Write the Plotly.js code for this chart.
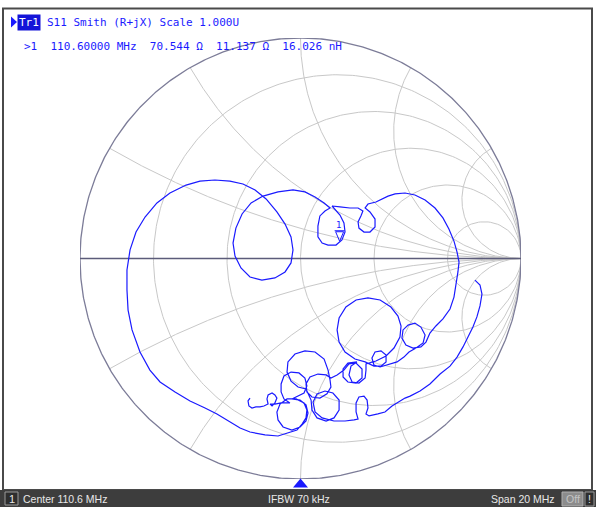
<!DOCTYPE html>
<html><head><meta charset="utf-8">
<script src="https://cdn.plot.ly/plotly-3.0.1.min.js"></script>
<style>html,body{margin:0;padding:0;background:#fff;overflow:hidden}#chart{width:596px;height:507px}</style>
</head><body><div id="chart"></div>
<script>
// ---- Smith chart grid values (normalised) ----
const resistanceCircles = [0.2, 0.5, 1, 2, 5];
const reactanceArcs = [0.268, 0.577, 1, 1.732, 3.732];

// ---- S11 trace: reflection coefficient ----
const gammaRe = [
-0.229,-0.238,-0.234,-0.220,-0.202,-0.184,-0.166,-0.147,-0.152,-0.147,-0.129,-0.116,-0.107,-0.116,-0.129,-0.138,-0.116,-0.088,-0.066,-0.048,
-0.075,-0.088,-0.088,-0.075,-0.043,-0.007,0.020,0.029,0.016,-0.016,-0.039,
-0.002,0.025,0.034,0.025,-0.002,-0.039,-0.079,-0.102,-0.107,-0.093,-0.061,-0.020,0.016,0.029,0.025,0.007,-0.016,
-0.057,-0.102,-0.161,-0.229,-0.274,-0.329,-0.379,-0.433,-0.501,-0.569,-0.637,-0.683,-0.728,-0.764,-0.782,-0.787,-0.787,-0.773,-0.746,-0.705,-0.651,-0.592,-0.519,-0.456,-0.388,-0.320,-0.261,-0.206,-0.156,-0.107,-0.070,-0.043,-0.034,-0.043,-0.070,-0.116,-0.175,-0.229,-0.270,-0.297,-0.306,-0.293,-0.265,-0.224,-0.170,-0.102,-0.034,0.020,0.066,0.107,0.134,
0.111,0.088,0.079,0.079,0.098,0.125,0.161,0.188,0.202,0.197,0.179,0.156,0.143,
0.179,0.224,0.261,0.283,0.274,0.261,0.265,0.288,0.315,0.338,0.338,0.315,0.293,0.306,0.342,0.374,0.397,0.429,0.474,0.519,0.565,0.610,0.646,0.673,0.696,0.710,0.719,0.714,0.705,0.696,0.678,0.646,0.614,
0.587,0.569,0.546,0.510,0.478,0.460,0.465,0.488,0.519,0.546,0.565,0.556,0.524,0.492,0.469,0.438,0.397,0.361,
0.333,0.324,0.338,0.365,0.388,0.388,0.365,0.333,
0.293,0.247,0.202,0.175,0.166,0.175,0.206,0.252,0.306,0.361,0.410,0.442,0.456,0.451,0.424,0.388,0.342,0.297,
0.297,0.293,0.265,0.234,0.220,0.229,0.256,
0.215,0.193,0.193,0.215,0.252,0.279,0.279,0.252,0.220,0.197,0.166,0.138,
0.116,0.079,0.043,0.025,0.029,0.052,0.088,0.120,0.138,0.134,
0.125,0.107,0.066,0.020,-0.025,-0.057,-0.061,-0.043,-0.011,0.025,
0.048,0.052,0.075,0.116,0.152,0.175,0.175,0.147,0.111,0.075,0.057,0.066,0.098,0.152,0.202,0.243,0.261,
0.252,0.252,0.265,0.288,0.302,0.306,0.297,0.311,0.351,0.383,0.415,0.451,0.474,0.497,0.542,0.587,0.633,0.678,0.710,0.737,0.760,0.782,0.800,0.814,0.823,0.814,0.791
];
const gammaIm = [
-0.633,-0.646,-0.669,-0.678,-0.673,-0.673,-0.669,-0.660,-0.637,-0.619,-0.610,-0.619,-0.633,-0.655,-0.669,-0.660,-0.660,-0.655,-0.655,-0.655,
-0.637,-0.605,-0.569,-0.533,-0.515,-0.519,-0.542,-0.578,-0.610,-0.628,-0.637,
-0.642,-0.664,-0.701,-0.737,-0.764,-0.778,-0.764,-0.732,-0.696,-0.660,-0.637,-0.637,-0.655,-0.687,-0.723,-0.751,-0.778,
-0.791,-0.805,-0.800,-0.787,-0.769,-0.737,-0.705,-0.678,-0.646,-0.605,-0.560,-0.506,-0.424,-0.324,-0.234,-0.143,-0.052,0.039,0.120,0.188,0.252,0.297,0.333,0.351,0.356,0.351,0.338,0.311,0.270,0.211,0.156,0.098,0.039,-0.020,-0.061,-0.088,-0.098,-0.084,-0.043,0.011,0.070,0.138,0.202,0.252,0.283,0.302,0.311,0.302,0.279,0.252,0.229,
0.215,0.193,0.147,0.098,0.070,0.061,0.061,0.084,0.120,0.161,0.197,0.224,0.238,
0.234,0.229,0.229,0.215,0.193,0.166,0.138,0.120,0.120,0.143,0.179,0.211,0.229,0.247,0.256,0.270,0.283,0.293,0.297,0.288,0.265,0.229,0.184,0.134,0.079,0.029,-0.016,-0.061,-0.120,-0.175,-0.229,-0.274,-0.306,
-0.338,-0.379,-0.401,-0.406,-0.392,-0.361,-0.324,-0.302,-0.293,-0.311,-0.347,-0.383,-0.406,-0.424,-0.447,-0.469,-0.483,-0.492,
-0.483,-0.451,-0.424,-0.419,-0.438,-0.469,-0.488,-0.488,
-0.469,-0.456,-0.424,-0.379,-0.324,-0.270,-0.220,-0.188,-0.179,-0.188,-0.220,-0.261,-0.306,-0.356,-0.406,-0.442,-0.465,-0.478,
-0.506,-0.542,-0.565,-0.560,-0.528,-0.488,-0.469,
-0.474,-0.501,-0.537,-0.560,-0.565,-0.542,-0.501,-0.474,-0.478,-0.506,-0.528,-0.542,
-0.528,-0.524,-0.537,-0.569,-0.605,-0.628,-0.633,-0.614,-0.583,-0.551,
-0.506,-0.456,-0.424,-0.419,-0.433,-0.469,-0.515,-0.556,-0.583,-0.592,
-0.642,-0.687,-0.723,-0.737,-0.723,-0.687,-0.642,-0.610,-0.601,-0.614,-0.651,-0.696,-0.723,-0.737,-0.737,-0.732,-0.728,
-0.696,-0.655,-0.628,-0.624,-0.642,-0.678,-0.705,-0.714,-0.705,-0.696,-0.669,-0.646,-0.633,-0.624,-0.601,-0.569,-0.524,-0.488,-0.447,-0.401,-0.356,-0.311,-0.265,-0.215,-0.161,-0.120,-0.098
];

// ---- marker 1 readout ----
const z0 = 50;
const markerFreq = "110.60000";
const markerR = 70.544, markerX = 11.137, markerL = 16.026;

// ---- header / status texts ----
const traceName = "Tr1";
const traceInfo = "S11 Smith (R+jX) Scale 1.000U";
const statusCenter = "Center 110.6 MHz";
const statusIfbw = "IFBW 70 kHz";
const statusSpan = "Span 20 MHz";

// ---------------------------------------------------
function gammaOf(r, x){
  const den = (r+1)*(r+1) + x*x;
  return [((r-1)*(r+1) + x*x)/den, 2*x/den];
}
const gx = [], gy = [];
const N = 360;
resistanceCircles.forEach(r => {
  for(let i=0;i<=N;i++){
    const t = -Math.PI/2 + 0.0005 + (Math.PI-0.001)*i/N;
    const g = gammaOf(r, Math.tan(t));
    gx.push(g[0]); gy.push(g[1]);
  }
  gx.push(null); gy.push(null);
});
reactanceArcs.forEach(x0 => {
  [x0, -x0].forEach(x => {
    for(let i=0;i<=N;i++){
      const t = (Math.PI/2 - 0.0005)*i/N;
      const g = gammaOf(Math.tan(t), x);
      gx.push(g[0]); gy.push(g[1]);
    }
    gx.push(1); gy.push(0);
    gx.push(null); gy.push(null);
  });
});
const ox = [], oy = [];
for(let i=0;i<=720;i++){ const a = 2*Math.PI*i/720; ox.push(Math.cos(a)); oy.push(Math.sin(a)); }

const n = Math.min(gammaRe.length, gammaIm.length);
const mg = gammaOf(markerR/z0, markerX/z0);

const blue = '#1a1aff';
const traces = [
  {type:'scatter', mode:'lines', x:gx, y:gy, line:{color:'#c8c8c8', width:1}, hoverinfo:'skip'},
  {type:'scatter', mode:'lines', x:ox, y:oy, line:{color:'#7c7c98', width:1.3}, hoverinfo:'skip'},
  {type:'scatter', mode:'lines', x:[-1,1], y:[0,0], line:{color:'#5c5c7a', width:1.3}, hoverinfo:'skip'},
  {type:'scatter', mode:'lines', x:gammaRe.slice(0,n), y:gammaIm.slice(0,n), line:{color:blue, width:1.2}, hoverinfo:'skip'}
];

// pixel -> paper helpers for decorations outside the plot area
const L = 80, T = 38, S = 441;
const PX = p => (p - L)/S;
const PY = p => (T + S - p)/S;

const mono = 'DejaVu Sans Mono';
const sans = 'Liberation Sans';
const nb = '\u00a0';
const line2 = '>1' + nb+nb + markerFreq + nb + 'MHz' + nb+nb + markerR.toFixed(3) + nb + 'Ω' + nb+nb +
              markerX.toFixed(3) + nb + 'Ω' + nb+nb + markerL.toFixed(3) + nb + 'nH';

function ann(px, py, text, opts){
  return Object.assign({xref:'paper', yref:'paper', x:PX(px), y:PY(py), text:text, showarrow:false,
    xanchor:'left', yanchor:'middle', borderpad:0, font:{family:mono, size:11, color:blue}}, opts||{});
}
function pathPx(pts){
  return pts.map((p,i)=>(i?'L':'M')+PX(p[0]).toFixed(5)+','+PY(p[1]).toFixed(5)).join(' ')+' Z';
}

const shapes = [
  // window frame
  {type:'rect', xref:'paper', yref:'paper', x0:PX(3), x1:PX(592), y0:PY(490), y1:PY(8.5), line:{color:'#4a4a4a', width:2}, layer:'below'},
  // status bar
  {type:'rect', xref:'paper', yref:'paper', x0:PX(0), x1:PX(596), y0:PY(507), y1:PY(490), fillcolor:'#3d3d3d', line:{width:0}},
  {type:'rect', xref:'paper', yref:'paper', x0:PX(5), x1:PX(18), y0:PY(505), y1:PY(492), fillcolor:'#2e2e2e', line:{color:'#9a9a9a', width:1}},
  {type:'rect', xref:'paper', yref:'paper', x0:PX(562), x1:PX(583), y0:PY(506), y1:PY(492), fillcolor:'#8c8c8c', line:{color:'#b0b0b0', width:1}},
  {type:'rect', xref:'paper', yref:'paper', x0:PX(585), x1:PX(594), y0:PY(506), y1:PY(492), fillcolor:'#2e2e2e', line:{color:'#9a9a9a', width:1}},
  // active trace arrow
  {type:'path', xref:'paper', yref:'paper', path:pathPx([[11,16.5],[11,27.5],[17,22]]), fillcolor:blue, line:{width:0}},
  // stimulus cursor at bottom
  {type:'path', xref:'paper', yref:'paper', xsizemode:'pixel', ysizemode:'pixel', xanchor:PX(300.5), yanchor:0,
   path:'M -7.5,-8.5 L 7.5,-8.5 L 0,0.5 Z', fillcolor:blue, line:{width:0}},
  // marker 1 symbol on trace
  {type:'path', xref:'x', yref:'y', xsizemode:'pixel', ysizemode:'pixel', xanchor:mg[0], yanchor:mg[1],
   path:'M -4,10 L 4,10 L 0,0.5 Z', fillcolor:'rgba(0,0,0,0)', line:{color:blue, width:1}},
  {type:'path', xref:'x', yref:'y', xsizemode:'pixel', ysizemode:'pixel', xanchor:mg[0], yanchor:mg[1],
   path:'M -5,11 L 5,11', line:{color:blue, width:1}}
];

const annotations = [
  ann(17, 22, traceName, {bgcolor:'#1414d8', font:{family:mono, size:11, color:'#ffffff'}, borderpad:1}),
  ann(45.5, 22, traceInfo),
  ann(23, 46.5, line2),
  {xref:'x', yref:'y', x:mg[0], y:mg[1], text:'1', showarrow:false, yshift:17, xshift:-1,
   font:{family:mono, size:9, color:blue}},
  ann(11.5, 499, '1', {xanchor:'center', font:{family:sans, size:11, color:'#e8e8e8'}}),
  ann(22, 499, statusCenter, {font:{family:sans, size:10.5, color:'#e8e8e8'}}),
  ann(267, 499, statusIfbw, {font:{family:sans, size:10.5, color:'#e8e8e8'}}),
  ann(490, 499, statusSpan, {font:{family:sans, size:10.5, color:'#e8e8e8'}}),
  ann(572.5, 499, 'Off', {xanchor:'center', font:{family:sans, size:10.5, color:'#c4c4c4'}}),
  ann(589.5, 499, '!', {xanchor:'center', font:{family:sans, size:10.5, color:'#e8e8e8'}})
];

const layout = {
  width:596, height:507,
  margin:{l:L, r:596-L-S, t:T, b:507-T-S, pad:0},
  paper_bgcolor:'#ffffff', plot_bgcolor:'rgba(0,0,0,0)',
  xaxis:{range:[-1,1], visible:false, fixedrange:true},
  yaxis:{range:[-1,1], visible:false, fixedrange:true},
  showlegend:false,
  shapes:shapes,
  annotations:annotations
};
Plotly.newPlot('chart', traces, layout, {staticPlot:true, displayModeBar:false});
</script>
</body></html>
